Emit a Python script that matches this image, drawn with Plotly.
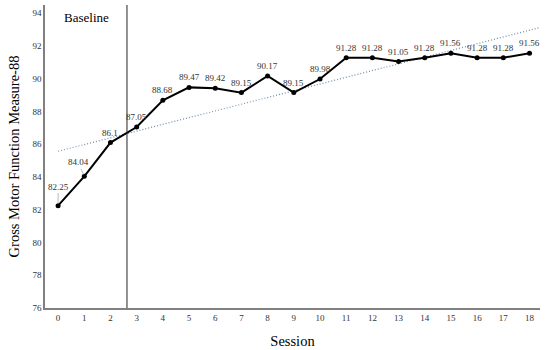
import numpy as np
import plotly.graph_objects as go

sessions = list(range(19))
gmfm = [82.25, 84.04, 86.1, 87.05, 88.68, 89.47, 89.42, 89.15, 90.17, 89.15,
        89.98, 91.28, 91.28, 91.05, 91.28, 91.56, 91.28, 91.28, 91.56]
labels = ["82.25", "84.04", "86.1", "87.05", "88.68", "89.47", "89.42", "89.15", "90.17", "89.15",
          "89.98", "91.28", "91.28", "91.05", "91.28", "91.56", "91.28", "91.28", "91.56"]
y_ticks = [76, 78, 80, 82, 84, 86, 88, 90, 92, 94]
phase_change = 2.63

slope, intercept = np.polyfit(sessions, gmfm, 1)
trend_x = [0, 18.4]
trend_y = [intercept + slope * x for x in trend_x]

font = "Liberation Serif, Times New Roman, serif"

fig = go.Figure()
fig.add_trace(go.Scatter(x=trend_x, y=trend_y, mode="lines",
                         line=dict(color="#6f8fae", width=1.2, dash="1px,2px"),
                         hoverinfo="skip", showlegend=False))
fig.add_trace(go.Scatter(x=sessions, y=gmfm, mode="lines+markers",
                         line=dict(color="black", width=2),
                         marker=dict(color="black", size=5),
                         showlegend=False))

anns = []
for i, (x, y, t) in enumerate(zip(sessions, gmfm, labels)):
    if i == 0:
        anns.append(dict(x=x, y=y, text=t, showarrow=True, arrowhead=0, ax=0, ay=-19,
                         arrowcolor="#aaaaaa", arrowwidth=0.8, standoff=2,
                         font=dict(family=font, size=9, color="#333")))
    elif i == 1:
        anns.append(dict(x=x, y=y, text=t, showarrow=True, arrowhead=0, ax=-6, ay=-14,
                         arrowcolor="#aaaaaa", arrowwidth=0.8, standoff=2,
                         font=dict(family=font, size=9, color="#333")))
    else:
        anns.append(dict(x=x, y=y, text=t, showarrow=False, yshift=10,
                         font=dict(family=font, size=9, color="#333")))

anns.append(dict(x=1.1, y=93.75, text="Baseline", showarrow=False, xanchor="center", yanchor="middle",
                 font=dict(family=font, size=13, color="black")))

fig.add_shape(type="line", x0=phase_change, x1=phase_change, y0=76, y1=94.5,
              xref="x", yref="y", line=dict(color="#222222", width=1))

fig.update_layout(
    width=550, height=350,
    margin=dict(l=45, r=10, t=5, b=42),
    plot_bgcolor="white", paper_bgcolor="white",
    annotations=anns,
    font=dict(family=font, color="black"),
    xaxis=dict(range=[-0.5, 18.4], tickvals=sessions, ticktext=[str(s) for s in sessions],
               showgrid=False, zeroline=False, showline=True, linecolor="#808080", linewidth=1.5,
               ticks="", automargin=False, tickfont=dict(family=font, size=9, color="#333"),
               title=dict(text="Session", font=dict(family=font, size=14.5, color="black"), standoff=14)),
    yaxis=dict(range=[76, 94.5], tickvals=y_ticks, ticktext=[str(v) for v in y_ticks],
               showgrid=False, zeroline=False, showline=True, linecolor="#808080", linewidth=1.5,
               ticks="", automargin=False, tickfont=dict(family=font, size=9, color="#333"),
               title=dict(text="Gross Motor Function Measure-88", font=dict(family=font, size=14.5, color="black"), standoff=9)),
)

fig.write_html("out.html", config={"displayModeBar": False},
               post_script="document.body.style.margin='0';document.body.style.padding='0';")
